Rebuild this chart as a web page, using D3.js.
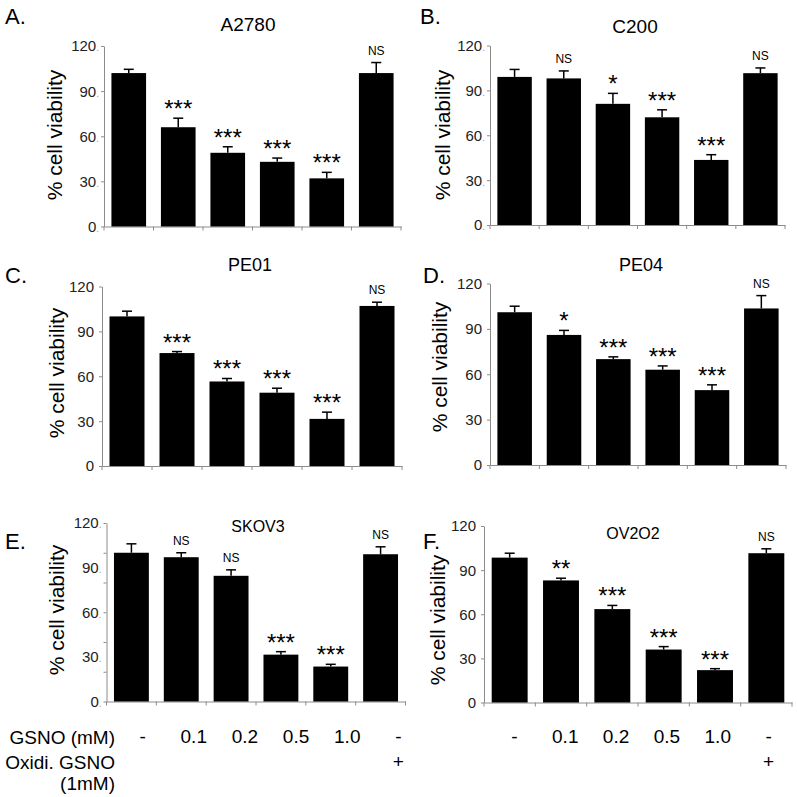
<!DOCTYPE html>
<html>
<head>
<meta charset="utf-8">
<script src="https://cdn.jsdelivr.net/npm/d3@7"></script>
<style>
  body { margin: 0; background: #fff; }
  svg { display: block; font-family: "Liberation Sans", Arial, sans-serif; }
</style>
</head>
<body>
<svg id="chart" width="797" height="797"></svg>
<script>
// treatment groups, same for every panel
var groups = ["ctrl", "g0.1", "g0.2", "g0.5", "g1.0", "oxid"];
var gsnoLabels = ["-", "0.1", "0.2", "0.5", "1.0", "-"];
var oxidLabels = ["", "", "", "", "", "+"];

var panelLetters = ["A.", "B.", "C.", "D.", "E.", "F."];
var cellLines = ["A2780", "C200", "PE01", "PE04", "SKOV3", "OV2O2"];

// % cell viability (mean) and error (upper bar only)
var viabA = [102, 66, 49, 43, 32, 102];
var errA  = [2.5, 6, 4, 2.5, 4, 7];
var sigA  = ["", "***", "***", "***", "***", "NS"];

var viabB = [99, 98, 81, 72, 43.5, 101.5];
var errB  = [5, 5, 7, 5, 3.5, 3.5];
var sigB  = ["", "NS", "*", "***", "***", "NS"];

var viabC = [100, 75.5, 56.5, 49, 31.5, 107];
var errC  = [3.5, 1, 2, 3, 4.5, 2.5];
var sigC  = ["", "***", "***", "***", "***", "NS"];

var viabD = [101, 86, 70, 63, 49.5, 103.5];
var errD  = [4, 3, 1.5, 2.5, 3.5, 8.5];
var sigD  = ["", "*", "***", "***", "***", "NS"];

var viabE = [100, 97, 84.5, 31.5, 23.5, 99];
var errE  = [6, 3, 4, 2, 1.5, 5];
var sigE  = ["", "NS", "NS", "***", "***", "NS"];

var viabF = [98.5, 83, 63.5, 36, 22, 101.5];
var errF  = [3, 1.5, 2.5, 2, 1, 3];
var sigF  = ["", "**", "***", "***", "***", "NS"];

var yLabelTicks = [0, 30, 60, 90, 120];
var yTicksE = [0, 20, 40, 60, 80, 100, 120];

var values = [viabA, viabB, viabC, viabD, viabE, viabF];
var errors = [errA, errB, errC, errD, errE, errF];
var sigs   = [sigA, sigB, sigC, sigD, sigE, sigF];

// layout of each panel (pixels)
var layout = [
  { x0: 104,   x1: 401,   y0: 226.5, y1: 46,    dot: true,  lx: 5,   ly: 24,  tx: 248, ty: 31,  ts: 19, ax: 55,  ay: 135 },
  { x0: 490,   x1: 785,   y0: 225,   y1: 45.5,  dot: true,  lx: 420, ly: 24,  tx: 635, ty: 33,  ts: 19, ax: 443, ay: 135 },
  { x0: 102,   x1: 402,   y0: 466,   y1: 286.5, dot: false, lx: 5,   ly: 283, tx: 250, ty: 271, ts: 18, ax: 57,  ay: 373 },
  { x0: 490,   x1: 786,   y0: 465,   y1: 283.5, dot: false, lx: 423, ly: 283, tx: 641, ty: 271, ts: 18, ax: 440, ay: 367 },
  { x0: 106.5, x1: 405.5, y0: 701.5, y1: 523,   dot: true,  lx: 5,   ly: 549, tx: 258, ty: 532, ts: 16, ax: 57,  ay: 610 },
  { x0: 484,   x1: 792,   y0: 702.5, y1: 526,   dot: false, lx: 423, ly: 549, tx: 633, ty: 539, ts: 16, ax: 438, ay: 620 }
];

var svg = d3.select("#chart");
var axisColor = "#8c8c8c";

layout.forEach(function (L, p) {
  var x = d3.scaleBand().domain(groups).range([L.x0, L.x1]).paddingInner(0.3).paddingOuter(0.15);
  var y = d3.scaleLinear().domain([0, 120]).range([L.y0, L.y1]);
  var g = svg.append("g");

  var rows = groups.map(function (k, i) {
    return { key: k, v: values[p][i], e: errors[p][i], s: sigs[p][i] };
  });

  // y axis: tick marks
  var tickVals = (p === 4) ? yTicksE : yLabelTicks;
  var yAx = g.append("g").attr("transform", "translate(" + L.x0 + ",0)")
    .call(d3.axisLeft(y).tickValues(tickVals).tickSize(3).tickSizeOuter(0).tickFormat(""));
  yAx.selectAll("path, line").attr("stroke", axisColor);

  // y tick labels
  var lab = g.selectAll(".ylab").data(yLabelTicks).enter().append("text")
    .attr("x", L.x0 - 8).attr("y", function (d) { return y(d); })
    .attr("dy", "0.36em").attr("text-anchor", "end")
    .attr("font-size", 15).attr("fill", "#222");
  lab.append("tspan").text(function (d) { return d; });
  if (L.dot) {
    lab.attr("x", L.x0 - 5);
    lab.append("tspan").attr("fill", "#999").attr("font-size", 10).text(".");
  }

  // x axis
  var xAx = g.append("g").attr("transform", "translate(0," + L.y0 + ")")
    .call(d3.axisBottom(x).tickSize(0).tickFormat(""));
  xAx.select("path").attr("stroke", axisColor);
  var step = x.step();
  var edges = d3.range(groups.length + 1).map(function (i) { return L.x0 + i * step; });
  g.selectAll(".xtick").data(edges).enter().append("line")
    .attr("x1", function (d) { return d; }).attr("x2", function (d) { return d; })
    .attr("y1", L.y0).attr("y2", L.y0 + 4).attr("stroke", axisColor);

  // bars
  g.selectAll(".bar").data(rows).enter().append("rect")
    .attr("x", function (d) { return x(d.key); })
    .attr("width", x.bandwidth())
    .attr("y", function (d) { return y(d.v); })
    .attr("height", function (d) { return y(0) - y(d.v); })
    .attr("fill", "#000");

  // error bars (upper only)
  var cx = function (d) { return x(d.key) + x.bandwidth() / 2; };
  g.selectAll(".err").data(rows).enter().append("line")
    .attr("x1", cx).attr("x2", cx)
    .attr("y1", function (d) { return y(d.v); })
    .attr("y2", function (d) { return y(d.v + d.e); })
    .attr("stroke", "#000").attr("stroke-width", 1.5);
  g.selectAll(".cap").data(rows).enter().append("line")
    .attr("x1", function (d) { return cx(d) - 5; })
    .attr("x2", function (d) { return cx(d) + 5; })
    .attr("y1", function (d) { return y(d.v + d.e); })
    .attr("y2", function (d) { return y(d.v + d.e); })
    .attr("stroke", "#000").attr("stroke-width", 1.5);

  // significance marks
  g.selectAll(".sig").data(rows.filter(function (d) { return d.s; })).enter().append("text")
    .attr("x", cx)
    .attr("y", function (d) { return y(d.v + d.e) - (d.s === "NS" ? 8 : 1); })
    .attr("text-anchor", "middle")
    .attr("font-size", function (d) { return d.s === "NS" ? 12 : 24; })
    .attr("fill", "#000")
    .text(function (d) { return d.s; });

  // panel letter, title, axis title
  g.append("text").attr("x", L.lx).attr("y", L.ly).attr("font-size", 22).text(panelLetters[p]);
  g.append("text").attr("x", L.tx).attr("y", L.ty).attr("text-anchor", "middle")
    .attr("font-size", L.ts).text(cellLines[p]);
  g.append("text")
    .attr("transform", "translate(" + L.ax + "," + L.ay + ") rotate(-90)")
    .attr("text-anchor", "middle").attr("dy", "0.35em")
    .attr("font-size", 21).text("% cell viability");
});

// treatment labels under the bottom panels
var labelScales = [
  d3.scaleBand().domain(groups).range([117, 424]),   // panel E labels sit a bit right of the bars
  d3.scaleBand().domain(groups).range([489, 794])
];
labelScales.forEach(function (s) {
  var mid = function (d, i) { return s(groups[i]) + s.bandwidth() / 2; };
  svg.append("g").selectAll("text").data(gsnoLabels).enter().append("text")
    .attr("x", mid).attr("y", 743).attr("text-anchor", "middle")
    .attr("font-size", 19).text(function (d) { return d; });
  svg.append("g").selectAll("text").data(oxidLabels).enter().append("text")
    .attr("x", mid).attr("y", 768).attr("text-anchor", "middle")
    .attr("font-size", 19).text(function (d) { return d; });
});

var rowText = ["GSNO (mM)", "Oxidi. GSNO", "(1mM)"];
var rowY = [744, 769, 790];
svg.append("g").selectAll("text").data(rowText).enter().append("text")
  .attr("x", 115).attr("y", function (d, i) { return rowY[i]; })
  .attr("text-anchor", "end").attr("font-size", 19)
  .text(function (d) { return d; });
</script>
</body>
</html>
